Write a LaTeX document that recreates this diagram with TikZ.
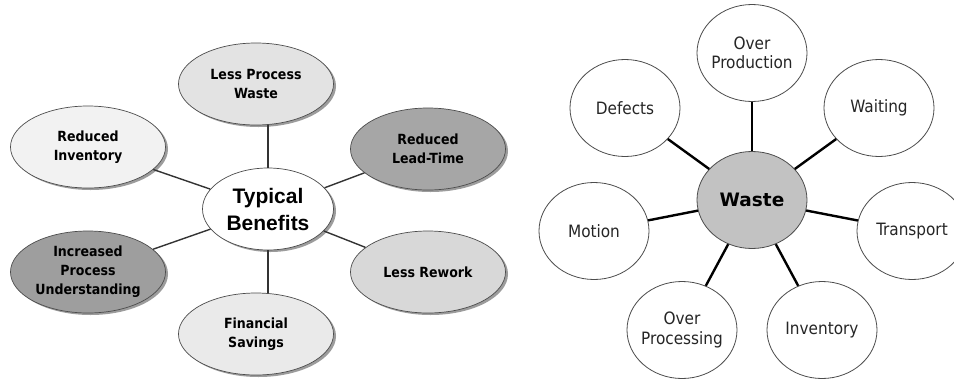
\documentclass[tikz,border=0pt]{standalone}
\usepackage{fontspec}
\usetikzlibrary{shapes.geometric,shadows}
\newfontfamily\condfont{DejaVu Sans Condensed}
\newfontfamily\widefont{DejaVu Sans}
\newfontfamily\arialfont{Liberation Sans}

\definecolor{fillA}{HTML}{F2F2F2}
\definecolor{fillB}{HTML}{E3E3E3}
\definecolor{fillC}{HTML}{A6A6A6}
\definecolor{fillD}{HTML}{9E9E9E}
\definecolor{fillE}{HTML}{D8D8D8}
\definecolor{fillF}{HTML}{EAEAEA}
\definecolor{wastegray}{HTML}{C2C2C2}

\tikzset{
  benefit/.style={ellipse, draw=black!70, line width=0.7pt, inner sep=0pt,
    minimum width=155pt, minimum height=82pt, align=center,
    font={\condfont\bfseries\fontsize{14}{19}\selectfont},
    drop shadow={shadow xshift=2.5pt, shadow yshift=-2pt, fill=black!70, opacity=0.55}},
  hub/.style={benefit, fill=white, minimum width=131pt, minimum height=82pt,
    font={\arialfont\bfseries\fontsize{21}{27}\selectfont}},
  spoke/.style={draw=black!80, line width=1.4pt},
  waste/.style={ellipse, draw=black!70, line width=0.8pt, fill=white,
    inner sep=0pt, inner xsep=-6pt, minimum width=110pt, minimum height=97pt,
    align=center, text=black!85,
    font={\condfont\fontsize{17}{19.5}\selectfont}},
  wastehub/.style={waste, fill=wastegray, text=black,
    font={\widefont\bfseries\fontsize{18.5}{22}\selectfont}},
  wspoke/.style={draw=black, line width=2.4pt}
}

\begin{document}
\begin{tikzpicture}[x=1pt, y=-1pt]
  \clip (0,0) rectangle (954,381);
  \fill[white] (0,0) rectangle (954,381);

  % typical benefits
  \node[hub] (tb) at (268,209) {Typical\\Benefits};
  \node[benefit, fill=fillB] (lpw) at (256,84) {Less Process\\Waste};
  \node[benefit, fill=fillA] (ri) at (88,147) {Reduced\\Inventory};
  \node[benefit, fill=fillC] (rlt) at (428,149) {Reduced\\Lead-Time};
  \node[benefit, fill=fillD] (ipu) at (88,272) {Increased\\Process\\Understanding};
  \node[benefit, fill=fillE] (lr) at (428,272) {Less Rework};
  \node[benefit, fill=fillF] (fs) at (256,334) {Financial\\Savings};

  \draw[spoke] (tb) -- (tb |- lpw.south);
  \draw[spoke] (tb) -- (tb |- fs.north);
  \draw[spoke] (tb) -- (ri);
  \draw[spoke] (tb) -- (rlt);
  \draw[spoke] (tb) -- (ipu);
  \draw[spoke] (tb) -- (lr);

  % seven wastes
  \node[wastehub] (w) at (752,200) {Waste};
  \node[waste] (op) at (752,53) {Over\\Production};
  \node[waste] (def) at (625,108) {Defects};
  \node[waste] (wait) at (879,108) {Waiting};
  \node[waste] (mot) at (594,231) {Motion};
  \node[waste] (tr) at (912,231) {Transport};
  \node[waste] (opr) at (682,330) {Over\\Processing};
  \node[waste] (inv) at (822,330) {Inventory};

  \foreach \n in {op,def,wait,mot,tr,opr,inv}
    \draw[wspoke] (w) -- (\n);
\end{tikzpicture}
\end{document}
